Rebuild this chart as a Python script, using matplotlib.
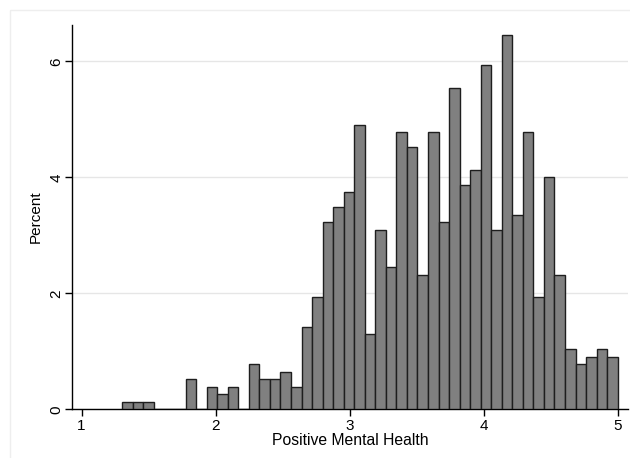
"""Histogram of Positive Mental Health scores (percent per bin)."""

import matplotlib
matplotlib.use("Agg")
import matplotlib.pyplot as plt
from matplotlib.patches import Rectangle

# Histogram data: 47 equal-width bins
bin_start = 1.304
bin_end = 5.0
percent = [
    0.129, 0.129, 0.129, 0.0, 0.0, 0.0, 0.516, 0.0, 0.387, 0.258,
    0.387, 0.0, 0.774, 0.516, 0.516, 0.645, 0.387, 1.419, 1.935, 3.226,
    3.484, 3.742, 4.903, 1.290, 3.097, 2.452, 4.774, 4.516, 2.323, 4.774,
    3.226, 5.548, 3.871, 4.129, 5.935, 3.097, 6.452, 3.355, 4.774, 1.935,
    4.000, 2.323, 1.032, 0.774, 0.903, 1.032, 0.903,
]
x_ticks = [1, 2, 3, 4, 5]
y_ticks = [0, 2, 4, 6]
x_label = "Positive Mental Health"
y_label = "Percent"

plt.rcParams["font.family"] = ["Liberation Sans", "DejaVu Sans"]

W, H = 630, 458
fig = plt.figure(figsize=(W / 100, H / 100), dpi=100)
fig.patch.set_facecolor("white")

# Faint outer frame of the graph region
fig.patches.append(Rectangle((10 / W, -0.01), 1.0, 1 - 10 / H + 0.01,
                             transform=fig.transFigure, fill=False,
                             edgecolor="#eeeeee", linewidth=1.0))

ax = fig.add_axes([71.7 / W, 48.7 / H, (628.3 - 71.7) / W, (433 - 48.7) / H])

n = len(percent)
width = (bin_end - bin_start) / n
lefts = [bin_start + i * width for i in range(n)]
ax.bar(lefts, percent, width=width, align="edge", color="#808080",
       edgecolor="#1e1e1e", linewidth=1.0, zorder=3)

ax.set_xlim(0.926, 5.079)
ax.set_ylim(0, 6.626)
ax.set_xticks(x_ticks)
ax.set_yticks(y_ticks)
ax.set_yticklabels([str(v) for v in y_ticks], rotation=90, va="center")
ax.tick_params(direction="out", length=5, width=1, labelsize=11,
               colors="black")
ax.tick_params(axis="x", pad=2)
ax.tick_params(axis="y", pad=1)

ax.yaxis.grid(True, color="#e6e6e6", linewidth=1.0, zorder=0)
ax.set_axisbelow(True)

for side in ("top", "right"):
    ax.spines[side].set_visible(False)
for side in ("left", "bottom"):
    ax.spines[side].set_linewidth(1.0)
    ax.spines[side].set_color("black")

ax.set_xlabel(x_label, fontsize=11.3, labelpad=0)
ax.set_ylabel(y_label, fontsize=11, labelpad=5)

fig.savefig("out.png", dpi=100)
